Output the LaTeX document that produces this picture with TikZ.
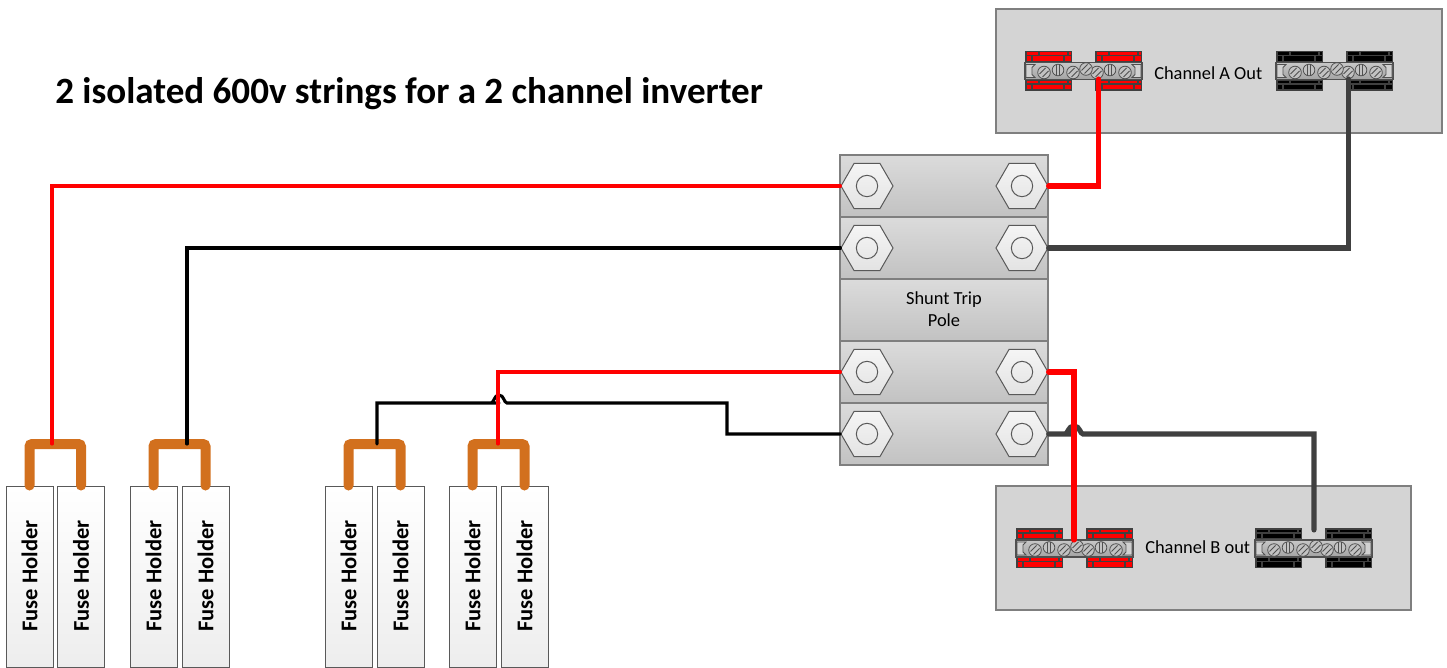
\documentclass[tikz,border=0pt]{standalone}
\usepackage{fontspec}
\setmainfont{Carlito}
\usetikzlibrary{shapes.geometric}
\definecolor{wirered}{HTML}{FF0000}
\definecolor{wiredark}{HTML}{404040}
\definecolor{jumperc}{HTML}{D2701E}
\definecolor{edgeg}{HTML}{7F7F7F}
\definecolor{termedge}{HTML}{505050}
\tikzset{
  x=0.75pt,y=-0.75pt,
  fuse/.style={draw=black!65,line width=0.75pt,top color=white,bottom color=black!7,minimum width=35.25pt,minimum height=135.75pt,inner sep=0pt},
  fuselabel/.style={rotate=90,font=\fontsize{16.9}{19}\selectfont\bfseries},
  panel/.style={draw=edgeg,line width=1pt,top color=black!17,bottom color=black!17,minimum width=#1,minimum height=93pt,inner sep=0pt},
  polerow/.style={draw=edgeg,line width=1.1pt,top color=black!14,bottom color=black!24,minimum width=156pt,minimum height=46.5pt,inner sep=0pt},
  hexnut/.style={regular polygon,regular polygon sides=6,minimum size=39pt,inner sep=0pt,draw=black!65,line width=0.75pt,top color=black!4,bottom color=black!11},
  hole/.style={circle,minimum size=16pt,inner sep=0pt,draw=black!65,line width=0.75pt},
  jump/.style={draw=jumperc,line width=7.5pt,line cap=round,rounded corners=2pt},
  thinred/.style={draw=wirered,line width=2.3pt,line cap=round},
  thinblack/.style={draw=black,line width=2.3pt,line cap=round},
  thickred/.style={draw=wirered,line width=3.8pt,line cap=round},
  thickdark/.style={draw=wiredark,line width=3.8pt,line cap=round},
  screwc/.style={draw=termedge,line width=0.6pt,fill=black!24},
  screwl/.style={draw=termedge,line width=0.6pt},
  term/.pic={
    % blocks
    \foreach \bx in {0,70}{
      \foreach \by in {0,28.5}{
        \fill[wiredark] (\bx,\by) rectangle ++(47,11.5);
        \fill[#1] (\bx+2,\by+1.5) rectangle ++(11,2.5);
        \fill[#1] (\bx+15,\by+1.5) rectangle ++(27,2.5);
        \fill[#1] (\bx+44,\by+1.5) rectangle ++(2,2.5);
        \fill[#1] (\bx+2,\by+5.5) rectangle ++(4,4.5);
        \fill[#1] (\bx+8,\by+5.5) rectangle ++(30,4.5);
        \fill[#1] (\bx+40,\by+5.5) rectangle ++(6,4.5);
      }
    }
    % bar
    \path[draw=termedge,line width=0.8pt,top color=black!22,bottom color=black!36]
      (0,12) -- (117,12) -- (117,29) -- (0,29) -- cycle;
    \path[draw=termedge,line width=0.6pt,fill=black!18]
      (1,14) -- (10,14) -- (7,17) -- (7,24) -- (10,27) -- (1,27) -- cycle;
    \path[draw=termedge,line width=0.6pt,fill=black!18]
      (116,14) -- (107,14) -- (110,17) -- (110,24) -- (107,27) -- (116,27) -- cycle;
    % screws
    \foreach \sx/\sy in {19/22,48/22,72/22,100/22,61/18.5}{
      \draw[screwc] (\sx,\sy) circle (6.3);
      \draw[screwl] (\sx-4.5,\sy+1.5) -- (\sx+1.5,\sy-4.5);
      \draw[screwl] (\sx-1.5,\sy+4.5) -- (\sx+4.5,\sy-1.5);
    }
    \foreach \sx/\sy in {33/19.5,85/19.5}{
      \draw[screwc] (\sx,\sy) circle (5.8);
      \draw[screwl] (\sx-1.5,\sy-5.3) -- (\sx-1.5,\sy+5.3);
      \draw[screwl] (\sx+1.5,\sy-5.3) -- (\sx+1.5,\sy+5.3);
    }
  }
}
\begin{document}
\begin{tikzpicture}
\useasboundingbox (0,0) rectangle (1447,668);
% panels
\node[panel=334.5pt] (panelA) at (1219,71) {};
\node[panel=311.25pt] (panelB) at (1203.5,548) {};
\pic at (1025,50.5) {term=wirered};
\pic at (1276,50.5) {term=black};
\pic at (1016,528) {term=wirered};
\pic at (1255,528) {term=black};
\node[anchor=west,inner sep=0pt,font=\fontsize{13.8}{16}\selectfont] (labA) at (1154,73.5) {Channel A Out};
\node[anchor=west,inner sep=0pt,font=\fontsize{13.8}{16}\selectfont] (labB) at (1145,547.5) {Channel B out};
% title
\node[anchor=west,font=\fontsize{27.8}{32}\selectfont\bfseries,inner sep=0pt] (title) at (55,94) {2 isolated 600v strings for a 2 channel inverter};
% pole rows
\node[polerow] (r1) at (944,186) {};
\node[polerow] (r2) at (944,248) {};
\node[polerow] (r3) at (944,310) {};
\node[align=center,inner sep=0pt,font=\fontsize{13.8}{16.5}\selectfont] (r3text) at (944,309) {Shunt Trip\\Pole};
\node[polerow] (r4) at (944,372) {};
\node[polerow] (r5) at (944,434) {};
\foreach \n/\yy in {1/186,2/248,4/372,5/434}{
  \node[hexnut] (hl\n) at (867,\yy) {};
  \node[hole] at (867,\yy) {};
  \node[hexnut] (hr\n) at (1022,\yy) {};
  \node[hole] at (1022,\yy) {};
}
% fuse holders
\foreach \n/\xx in {1/29.5,2/81,3/153.5,4/205.5,5/348.5,6/400.5,7/472.5,8/524.5}{
  \node[fuse] (f\n) at (\xx,576.5) {};
  \node[fuselabel] at (\xx,576) {Fuse Holder};
}
% jumpers
\coordinate (j1) at (52,444);
\coordinate (j2) at (187,444);
\coordinate (j3) at (377,444);
\coordinate (j4) at (498,444);
\draw[jump] (f1.north) -- (f1.north |- j1) -- (f2.north |- j1) -- (f2.north);
\draw[jump] (f3.north) -- (f3.north |- j2) -- (f4.north |- j2) -- (f4.north);
\draw[jump] (f5.north) -- (f5.north |- j3) -- (f6.north |- j3) -- (f6.north);
\draw[jump] (f7.north) -- (f7.north |- j4) -- (f8.north |- j4) -- (f8.north);
% wires, left
\draw[thinred] (j1) |- (hl1.west);
\draw[thinblack] (j2) |- (hl2.west);
\coordinate (hopL) at (499,403);
\coordinate (kneeL) at (727,403);
\draw[thinblack] (j3) |- (hopL) ++(-8,0)
   .. controls +(3,0) and +(-5,0) .. ++(8,-8)
   .. controls +(5,0) and +(-3,0) .. ++(8,8)
   -- (kneeL) |- (hl5.west);
\draw[thinred] (j4) |- (hl4.west);
% wires, right
\coordinate (endA) at (1098.5,79);
\coordinate (endAk) at (1348.5,79);
\coordinate (endB) at (1074,540);
\coordinate (endBk) at (1314,530);
\coordinate (hopR) at (1074,434);
\draw[thickred] (hr1.east) -| (endA);
\draw[thickdark] (hr2.east) -| (endAk);
\draw[thickdark] (hr5.east) -- (hopR) ++(-9,0)
   .. controls +(3,0) and +(-6,0) .. ++(9,-8)
   .. controls +(6,0) and +(-3,0) .. ++(9,8)
   -| (endBk);
\draw[thickred] (hr4.east) -| (endB);
\end{tikzpicture}
\end{document}
